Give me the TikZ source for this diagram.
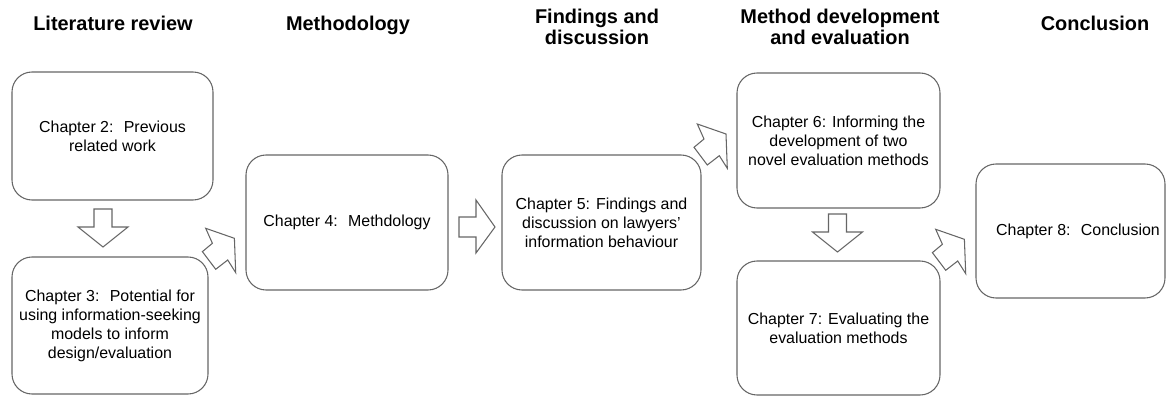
\documentclass[tikz,border=0pt]{standalone}
\usepackage{fontspec}
\setmainfont{Liberation Sans}
\usetikzlibrary{calc}

\begin{document}
\begin{tikzpicture}[x=0.03cm,y=-0.03cm,
  chap/.style={draw=black!60,line width=0.9pt,rounded corners=0.6cm,fill=white,
    align=center,inner sep=0pt,font=\fontsize{13.6}{16.2}\selectfont},
  head/.style={align=center,font=\bfseries\fontsize{17}{17.9}\selectfont},
  blk/.style={draw=black!60,line width=0.9pt,fill=white,line join=miter},
  pics/downarrow/.style={code={
    \draw[blk] (-9,0) -- (9,0) -- (9,18) -- (25,18) -- (0,38) -- (-25,18) -- (-9,18) -- cycle;}},
  pics/rightarrow/.style={code={
    \draw[blk] (0,-10) -- (17,-10) -- (17,-27) -- (36,0) -- (17,26) -- (17,10) -- (0,10) -- cycle;}},
  pics/diagarrow/.style={code={
    \draw[blk] (0,0) -- (28.7,10) -- (30,44.3) -- (22,31.7) -- (10,41) -- (-3.3,23.3) -- (6.7,15) -- cycle;}}]
\useasboundingbox (0,0) rectangle (1167,396);

% column titles
\node[head,anchor=base] (hlit) at (113,31) {Literature review};
\node[head,anchor=base] (hmeth) at (348,31) {Methodology};
\node[head] (hfind) at (597,27) {Findings and\\discussion};
\node[head] (hdev) at (840,27) {Method development\\and evaluation};
\node[head,anchor=base] (hconc) at (1095,31) {Conclusion};

% chapters
\node[chap,minimum width=6.03cm,minimum height=3.84cm] (ch2) at (112.5,136) {Chapter 2:~ Previous\\related work};
\node[chap,minimum width=5.88cm,minimum height=4.11cm] (ch3) at (110,325.5) {Chapter 3:~ Potential for\\using information-seeking\\models to inform\\design/evaluation};
\node[chap,minimum width=6.06cm,minimum height=4.05cm] (ch4) at (347,222.5) {Chapter 4:~ Methdology};
\node[chap,minimum width=5.97cm,minimum height=4.05cm] (ch5) at (601.5,222.5) {Chapter 5: Findings and\\discussion on lawyers'\\information behaviour};
\node[chap,minimum width=6.09cm,minimum height=4.05cm] (ch6) at (838.5,140.5) {Chapter 6: Informing the\\development of two\\novel evaluation methods};
\node[chap,minimum width=6.09cm,minimum height=4.02cm] (ch7) at (838.5,328) {Chapter 7: Evaluating the\\evaluation methods};
\node[chap,minimum width=5.67cm,minimum height=4.02cm] (ch8) at (1070.5,231) {\hspace*{0.45cm}Chapter 8:~ Conclusion};

% block arrows
\pic at (103,209) {downarrow};
\pic at (837.5,214) {downarrow};
\pic at (459,227) {rightarrow};
\foreach \p in {(205.7,228.3),(697.3,124),(935.7,229.3)}
  \pic at \p {diagarrow};
\end{tikzpicture}
\end{document}
